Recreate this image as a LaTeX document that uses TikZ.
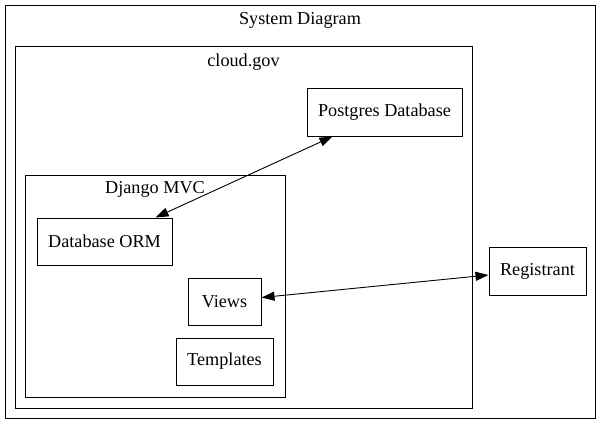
\documentclass[tikz,border=0pt]{standalone}
\usepackage{fontspec}
\setmainfont{Liberation Serif}
\usetikzlibrary{arrows.meta}
\tikzset{
  cluster/.style={draw, line width=1pt, inner sep=0pt},
  box/.style={draw, line width=1pt, minimum height=47pt, inner sep=0pt, font=\fontsize{18.2}{20}\selectfont},
  lbl/.style={font=\fontsize{18.2}{20}\selectfont, inner sep=0pt},
  link/.style={line width=0.9pt, {Triangle[length=13pt,width=9pt]}-{Triangle[length=13pt,width=9pt]}}
}
\begin{document}
\begin{tikzpicture}[x=1pt,y=-1pt]
          \useasboundingbox (0,0) rectangle (601,424);
          % clusters
          \node[cluster, minimum width=590pt, minimum height=413pt] (sys) at (300,211.5) {};
          \node[cluster, minimum width=457pt, minimum height=362pt] (cloud) at (243.5,227) {};
          \node[cluster, minimum width=260pt, minimum height=222pt] (django) at (155,286) {};
          \node[lbl] (syslbl) at (300,20.5) {System Diagram};
          \node[lbl] (cloudlbl) at (243.5,62.5) {cloud.gov};
          \node[lbl] (djangolbl) at (155,189) {Django MVC};
          % boxes
          \node[box, minimum width=135pt] (orm) at (104.5,241.5) {Database ORM};
          \node[box, minimum width=73pt] (views) at (224.5,301.5) {Views};
          \node[box, minimum width=97pt] (tmpl) at (224.5,361.5) {Templates};
          \node[box, minimum width=155pt, minimum height=48pt] (pg) at (384.5,112) {Postgres Database};
          \node[box, minimum width=97pt, minimum height=48pt] (reg) at (537.5,271) {Registrant};
          % edges
          \draw[link] ([xshift=-17pt]orm.north east) -- ([xshift=26pt]pg.south west);
          \draw[link] ([yshift=4pt]views.east) -- ([yshift=-4pt]reg.west);
\end{tikzpicture}
\end{document}
